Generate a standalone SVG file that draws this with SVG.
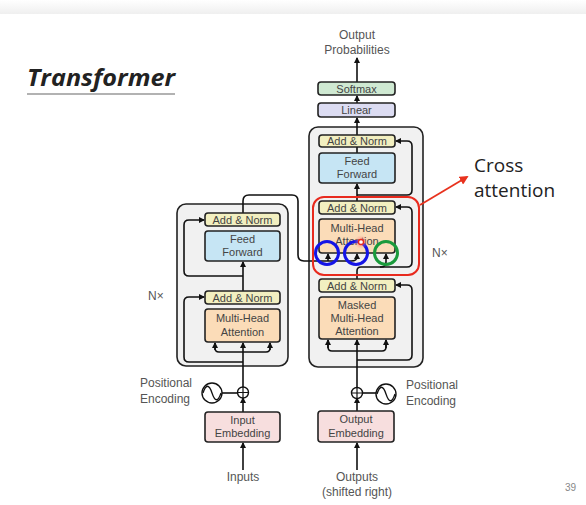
<svg xmlns="http://www.w3.org/2000/svg" width="586" height="505" viewBox="0 0 586 505">
<defs>
<linearGradient id="topg" x1="0" y1="0" x2="0" y2="1">
<stop offset="0" stop-color="#ffffff"/><stop offset="1" stop-color="#efefef"/>
</linearGradient>
<radialGradient id="glow"><stop offset="0" stop-color="#ff6060" stop-opacity="0.8"/><stop offset="1" stop-color="#ff9090" stop-opacity="0"/></radialGradient>
<marker id="ah" viewBox="0 0 6 6" refX="5" refY="3" markerWidth="6" markerHeight="6" markerUnits="userSpaceOnUse" orient="auto">
<path d="M0,0 L6,3 L0,6 Z" fill="#111"/>
</marker>
<marker id="rah" viewBox="0 0 10 10" refX="8" refY="5" markerWidth="9" markerHeight="9" markerUnits="userSpaceOnUse" orient="auto">
<path d="M0,0 L10,5 L0,10 Z" fill="#e8321e"/>
</marker>
</defs>
<style>
.outer{fill:#f1f1f1;stroke:#222;stroke-width:1.6}
.blk{stroke:#222;stroke-width:1.6}
.an{fill:#f2efc0}
.ff{fill:#c6e5f4}
.mha{fill:#fbdcb8}
.emb{fill:#f7dede}
.sm{fill:#cfe9d2}
.lin{fill:#dcdcf2}
.t{font-family:"Liberation Sans",Arial,sans-serif;font-size:11px;fill:#444;text-anchor:middle}
.lbl{font-family:"Liberation Sans",Arial,sans-serif;font-size:12px;fill:#555}
.ln{fill:none;stroke:#111;stroke-width:1.6}
.cal{font-family:"Open Sans","Liberation Sans",sans-serif;fill:#222}
</style>
<rect x="0" y="0" width="586" height="14" fill="url(#topg)"/>
<rect x="0" y="14" width="586" height="491" fill="#ffffff"/>

<g id="title">
<text x="27" y="86" class="cal" font-size="24" font-weight="bold" font-style="italic" textLength="148" lengthAdjust="spacingAndGlyphs" fill="#111">Transformer</text>
<line x1="27" y1="94" x2="175" y2="94" stroke="#999" stroke-width="1.5"/>
</g>

<g id="encoder">
<rect class="outer" x="177" y="204" width="111" height="162" rx="9"/>
</g>
<g id="decoder">
<rect class="outer" x="309" y="127" width="114" height="240" rx="9"/>
</g>

<g id="connectors">
<!-- encoder -->
<path class="ln" d="M243,470 V443" marker-end="url(#ah)"/>
<path class="ln" d="M243,412 V398" marker-end="url(#ah)"/>
<path class="ln" d="M243,387 V343" marker-end="url(#ah)"/>
<path class="ln" d="M215,343 V348 Q215,352 219,352 H266 Q270,352 270,348 V343"/>
<path class="ln" d="M215,350 V343" marker-end="url(#ah)"/>
<path class="ln" d="M270,350 V343" marker-end="url(#ah)"/>
<path class="ln" d="M243,362 H189 Q184,362 184,357 V302 Q184,297 189,297 H204" marker-end="url(#ah)"/>
<path class="ln" d="M243,291 V262" marker-end="url(#ah)"/>
<path class="ln" d="M243,276 H189 Q184,276 184,271 V225 Q184,220 189,220 H204" marker-end="url(#ah)"/>
<path class="ln" d="M243,213 V201 Q243,195 249,195 H292 Q298,195 298,201 V255 Q298,261 304,261 H351 Q357,261 357,257 V254" marker-end="url(#ah)"/>
<path class="ln" d="M328,261 V254" marker-end="url(#ah)"/>
<!-- decoder -->
<path class="ln" d="M357,470 V443" marker-end="url(#ah)"/>
<path class="ln" d="M357,411 V398" marker-end="url(#ah)"/>
<path class="ln" d="M357,388 V340" marker-end="url(#ah)"/>
<path class="ln" d="M328,340 V347 Q328,351 332,351 H382 Q386,351 386,347 V340"/>
<path class="ln" d="M328,348 V340" marker-end="url(#ah)"/>
<path class="ln" d="M386,348 V340" marker-end="url(#ah)"/>
<path class="ln" d="M357,360 H407 Q412,360 412,355 V290 Q412,285 407,285 H396" marker-end="url(#ah)"/>
<path class="ln" d="M357,279 V271 Q357,267 361,267 H381 Q386,267 386,262 V254" marker-end="url(#ah)"/>
<path class="ln" d="M380,267 H407 Q412,267 412,262 V212 Q412,207 407,207 H396" marker-end="url(#ah)"/>
<path class="ln" d="M357,201 V184" marker-end="url(#ah)"/>
<path class="ln" d="M357,195 H407 Q412,195 412,190 V146 Q412,141 407,141 H396" marker-end="url(#ah)"/>
<path class="ln" d="M357,153 V147"/>
<path class="ln" d="M357,135 V118" marker-end="url(#ah)"/>
<path class="ln" d="M357,103 V96" marker-end="url(#ah)"/>
<path class="ln" d="M357,82 V58" marker-end="url(#ah)"/>
<!-- positional encodings -->
<path class="ln" d="M222,393 H238"/>
<path class="ln" d="M362,393 H376"/>
</g>

<g id="enc-addnorm2"><rect class="blk an" x="205" y="213" width="75" height="13" rx="3"/><text class="t" x="242.5" y="223.5">Add &amp; Norm</text></g>
<g id="enc-ff"><rect class="blk ff" x="205" y="231" width="75" height="30" rx="3"/><text class="t" x="242.5" y="243">Feed</text><text class="t" x="242.5" y="256">Forward</text></g>
<g id="enc-addnorm1"><rect class="blk an" x="205" y="291" width="75" height="13" rx="3"/><text class="t" x="242.5" y="301.5">Add &amp; Norm</text></g>
<g id="enc-mha"><rect class="blk mha" x="205" y="309" width="75" height="33" rx="3"/><text class="t" x="242.5" y="322">Multi-Head</text><text class="t" x="242.5" y="336">Attention</text></g>
<g id="enc-plus"><circle cx="243" cy="392.5" r="5.5" fill="#fff" stroke="#111" stroke-width="1.4"/><path d="M237.5,392.5 H248.5 M243,387 V398" stroke="#111" stroke-width="1.2"/></g>
<g id="enc-pe"><circle cx="212" cy="393" r="10" fill="#fff" stroke="#111" stroke-width="1.4"/><path d="M203,393 C206,384 209,384 212,393 C215,402 218,402 221,393" fill="none" stroke="#111" stroke-width="1.3"/>
<text class="lbl" x="140" y="387">Positional</text><text class="lbl" x="140" y="403">Encoding</text></g>
<g id="enc-emb"><rect class="blk emb" x="205" y="412" width="75" height="30" rx="3"/><text class="t" x="242.5" y="424">Input</text><text class="t" x="242.5" y="437">Embedding</text></g>
<g id="inputs"><text class="lbl" x="243" y="481" text-anchor="middle" font-size="13">Inputs</text></g>
<g id="enc-nx"><text class="lbl" x="148" y="300" font-size="11">N×</text></g>

<g id="dec-addnorm3"><rect class="blk an" x="319" y="135" width="76" height="12" rx="3"/><text class="t" x="357" y="145">Add &amp; Norm</text></g>
<g id="dec-ff"><rect class="blk ff" x="319" y="153" width="76" height="30" rx="3"/><text class="t" x="357" y="165">Feed</text><text class="t" x="357" y="178">Forward</text></g>
<g id="dec-addnorm2"><rect class="blk an" x="319" y="201" width="76" height="13" rx="3"/><text class="t" x="357" y="211.5">Add &amp; Norm</text></g>
<g id="dec-mha"><rect class="blk mha" x="319" y="219" width="76" height="34" rx="3"/><text class="t" x="357" y="232">Multi-Head</text><text class="t" x="357" y="245">Attention</text></g>
<g id="dec-addnorm1"><rect class="blk an" x="319" y="279" width="76" height="13" rx="3"/><text class="t" x="357" y="289.5">Add &amp; Norm</text></g>
<g id="dec-mmha"><rect class="blk mha" x="319" y="297" width="76" height="42" rx="3"/><text class="t" x="357" y="309">Masked</text><text class="t" x="357" y="322">Multi-Head</text><text class="t" x="357" y="335">Attention</text></g>
<g id="dec-plus"><circle cx="357" cy="393" r="5.5" fill="#fff" stroke="#111" stroke-width="1.4"/><path d="M351.5,393 H362.5 M357,387.5 V398.5" stroke="#111" stroke-width="1.2"/></g>
<g id="dec-pe"><circle cx="386" cy="394" r="10" fill="#fff" stroke="#111" stroke-width="1.4"/><path d="M377,394 C380,385 383,385 386,394 C389,403 392,403 395,394" fill="none" stroke="#111" stroke-width="1.3"/>
<text class="lbl" x="406" y="389">Positional</text><text class="lbl" x="406" y="405">Encoding</text></g>
<g id="dec-emb"><rect class="blk emb" x="318" y="411" width="76" height="31" rx="3"/><text class="t" x="356" y="423">Output</text><text class="t" x="356" y="437">Embedding</text></g>
<g id="outputs"><text class="lbl" x="357" y="481" text-anchor="middle" font-size="13">Outputs</text><text class="lbl" x="357" y="496" text-anchor="middle">(shifted right)</text></g>
<g id="dec-nx"><text class="lbl" x="432" y="257" font-size="11">N×</text></g>

<g id="linear"><rect class="blk lin" x="318" y="103" width="77" height="14" rx="3"/><text class="t" x="356.5" y="114">Linear</text></g>
<g id="softmax"><rect class="blk sm" x="318" y="82" width="77" height="13" rx="3"/><text class="t" x="356.5" y="92.5">Softmax</text></g>
<g id="outprob"><text class="lbl" x="357" y="39" text-anchor="middle">Output</text><text class="lbl" x="357" y="54" text-anchor="middle">Probabilities</text></g>

<g id="annotation">
<rect x="313" y="197" width="106" height="78" rx="11" fill="none" stroke="#e82a1e" stroke-width="2"/>
<circle cx="327" cy="253" r="11.5" fill="none" stroke="#1414e6" stroke-width="3"/>
<circle cx="356" cy="253" r="11.5" fill="none" stroke="#1414e6" stroke-width="3"/>
<circle cx="386" cy="253" r="11.5" fill="none" stroke="#1a9a3c" stroke-width="3"/>
<circle cx="361" cy="242" r="7" fill="url(#glow)"/>
<circle cx="361" cy="242" r="2.5" fill="#fff" stroke="#e82a1e" stroke-width="1.3"/>
<path d="M420,205 L467,177" fill="none" stroke="#e8321e" stroke-width="1.8" marker-end="url(#rah)"/>
<text class="cal" x="474" y="172" font-size="19">Cross</text>
<text class="cal" x="474" y="197" font-size="19">attention</text>
</g>
<g id="page"><text x="565" y="491" font-family="'Liberation Sans',Arial,sans-serif" font-size="10" fill="#888">39</text></g>
</svg>
